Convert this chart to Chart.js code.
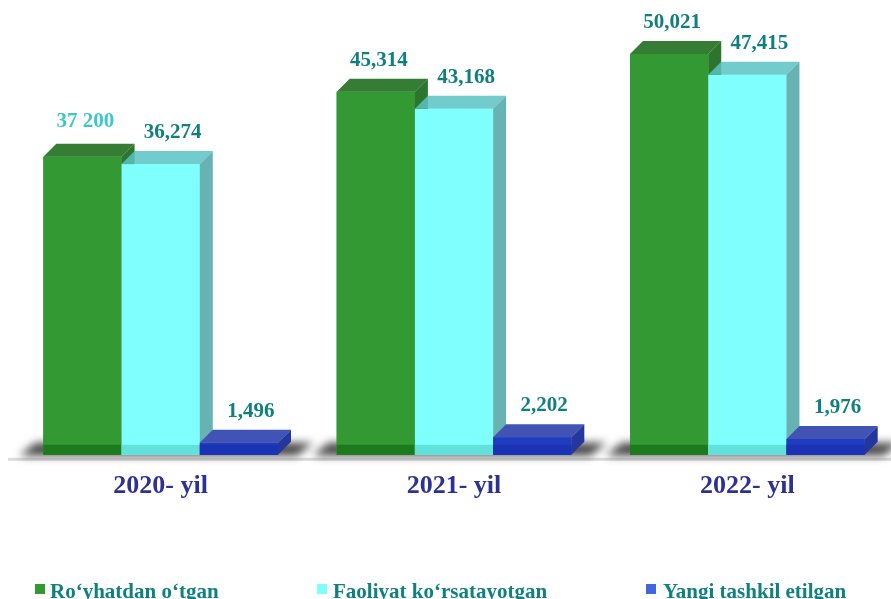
<!DOCTYPE html>
<html lang="uz">
<head>
<meta charset="UTF-8">
<title>Ro'yhatdan o'tgan / Faoliyat ko'rsatayotgan / Yangi tashkil etilgan</title>
<style>
    body { margin: 0; background: #fff; }
    .frame { position: relative; width: 891px; height: 599px; overflow: hidden; }
    .chart-box { position: absolute; left: 0; top: 0; width: 900px; height: 599px; }
    .legend { position: absolute; top: 579px; line-height: 21px; white-space: nowrap;
        font: bold 21px "Liberation Serif", "Times New Roman", serif; color: #108080; }
    .legend i { position: absolute; top: 5px; width: 10px; height: 10px; }
</style>
</head>
<body>
<div class="frame">
    <div class="chart-box"><canvas id="chart"></canvas></div>
    <div id="legend"></div>
</div>
<script src="https://cdn.jsdelivr.net/npm/chart.js"></script>
<script>
const categories = ['2020- yil', '2021- yil', '2022- yil'];
const registered = [37200, 45314, 50021];     // Ro'yhatdan o'tgan
const active = [36274, 43168, 47415];         // Faoliyat ko'rsatayotgan
const newlyCreated = [1496, 2202, 1976];      // Yangi tashkil etilgan
const seriesNames = ['Ro\u2018yhatdan o\u2018tgan', 'Faoliyat ko\u2018rsatayotgan', 'Yangi tashkil etilgan'];

// front / top / side / bottom band colours per series
const faces = [
    { front: '#339933', top: '#357d35', side: '#2d742d', base: '#1c7a1c', legend: '#339933' },
    { front: '#80ffff', top: 'rgba(90,195,195,0.85)', side: 'rgba(95,175,175,0.95)', base: '#62e0da', legend: '#80ffff' },
    { front: '#1f3cc0', top: '#4154b6', side: '#22389c', base: '#1a33b2', legend: '#4466dd' }
];
const depth = 13;

// fake 3d: shadow on the floor, floor line, box faces, value labels
const box3dPlugin = {
    id: 'box3d',
    beforeDatasetsDraw(chart) {
        const ctx = chart.ctx;
        const area = chart.chartArea;
        const bottom = area.bottom;
        const first = chart.getDatasetMeta(0).data;
        const last = chart.getDatasetMeta(2).data;
        ctx.save();
        ctx.fillStyle = '#dcdcdc';
        ctx.fillRect(area.left - 6, bottom + 3, area.right - area.left + 10, 3);
        ctx.filter = 'blur(4px)';
        ctx.fillStyle = 'rgba(40,40,40,0.85)';
        first.forEach((bar, i) => {
            const l = bar.x - bar.width / 2;
            const r = last[i].x + last[i].width / 2;
            ctx.beginPath();
            ctx.moveTo(l - 24, bottom + 1);
            ctx.lineTo(l - 8, bottom - 12);
            ctx.lineTo(r + depth + 22, bottom - 12);
            ctx.lineTo(r + depth + 6, bottom + 1);
            ctx.closePath();
            ctx.fill();
        });
        ctx.restore();
    },
    afterDatasetsDraw(chart) {
        const ctx = chart.ctx;
        ctx.save();
        // boxes, left series first so the next one sits in front
        chart.data.datasets.forEach((ds, di) => {
            const f = faces[di];
            chart.getDatasetMeta(di).data.forEach(bar => {
                const x1 = bar.x - bar.width / 2, x2 = bar.x + bar.width / 2;
                const top = bar.y, bottom = bar.base;
                ctx.fillStyle = f.front;
                ctx.fillRect(x1, top, x2 - x1, bottom - top);
                ctx.fillStyle = f.base;
                ctx.fillRect(x1, Math.max(top, bottom - 10), x2 - x1, Math.min(10, bottom - top));
                ctx.fillStyle = f.top;
                ctx.beginPath();
                ctx.moveTo(x1, top);
                ctx.lineTo(x1 + depth, top - depth);
                ctx.lineTo(x2 + depth, top - depth);
                ctx.lineTo(x2, top);
                ctx.closePath();
                ctx.fill();
                ctx.fillStyle = f.side;
                ctx.beginPath();
                ctx.moveTo(x2, top);
                ctx.lineTo(x2 + depth, top - depth);
                ctx.lineTo(x2 + depth, bottom - depth);
                ctx.lineTo(x2, bottom);
                ctx.closePath();
                ctx.fill();
            });
        });
        // value labels
        ctx.font = 'bold 21px "Liberation Serif", serif';
        ctx.textAlign = 'center';
        ctx.textBaseline = 'alphabetic';
        chart.data.datasets.forEach((ds, di) => {
            chart.getDatasetMeta(di).data.forEach((bar, i) => {
                let text = ds.data[i].toLocaleString('en-US');
                let lift = 13;
                ctx.fillStyle = '#0f7f7f';
                if (di === 0 && i === 0) {
                    text = text.replace(',', ' ');
                    ctx.fillStyle = '#3cc8c8';
                    lift = 17;
                }
                const dx = di === 0 ? 3 : 12;
                ctx.fillText(text, bar.x + dx, bar.y - depth - lift);
            });
        });
        ctx.restore();
    }
};

const ctx = document.getElementById('chart').getContext('2d');
new Chart(ctx, {
    type: 'bar',
    data: {
        labels: categories,
        datasets: [registered, active, newlyCreated].map((d, i) => ({
            label: seriesNames[i],
            data: d,
            backgroundColor: faces[i].front,
            borderWidth: 0,
            barPercentage: 1,
            categoryPercentage: 0.8
        }))
    },
    options: {
        responsive: true,
        maintainAspectRatio: false,
        animation: false,
        layout: { padding: { left: 14, right: 6, top: 14, bottom: 81 } },
        plugins: {
            legend: { display: false },
            tooltip: { enabled: false }
        },
        scales: {
            x: {
                grid: { display: false, drawTicks: false },
                border: { display: false },
                ticks: {
                    padding: 16,
                    color: '#2e3192',
                    font: { family: '"Liberation Serif", serif', size: 26, weight: 'bold' }
                }
            },
            y: {
                display: false,
                min: 0,
                max: 55000
            }
        }
    },
    plugins: [box3dPlugin]
});

// legend below the chart
const legendPos = [[35, 50], [317, 333], [646, 663]];
const legendEl = document.getElementById('legend');
seriesNames.forEach((name, i) => {
    const item = document.createElement('div');
    item.className = 'legend';
    item.style.left = legendPos[i][0] + 'px';
    item.innerHTML = '<i style="left:0;background:' + faces[i].legend + '"></i>' +
        '<span style="margin-left:' + (legendPos[i][1] - legendPos[i][0]) + 'px">' + name + '</span>';
    legendEl.appendChild(item);
});
</script>
</body>
</html>
